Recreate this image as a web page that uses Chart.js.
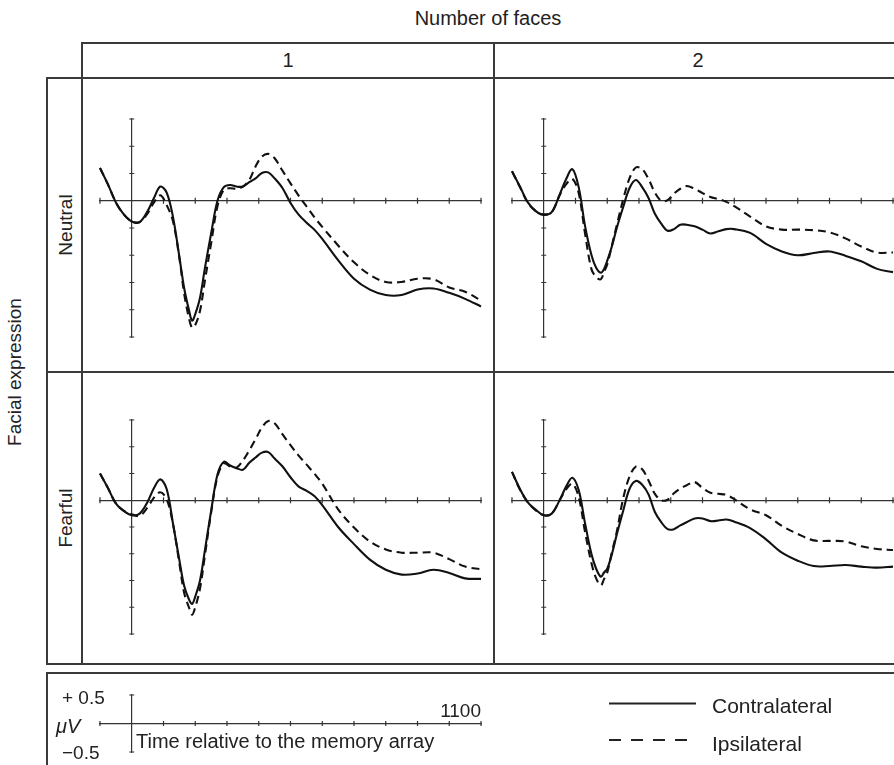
<!DOCTYPE html>
<html>
<head>
<meta charset="utf-8">
<title>Contralateral vs ipsilateral waveforms</title>
<script src="https://cdn.jsdelivr.net/npm/chart.js@4.4.1/dist/chart.umd.min.js"></script>
<style>
  html, body { margin: 0; padding: 0; width: 894px; height: 765px; overflow: hidden; background: #fff; }
  body { position: relative; font-family: "Liberation Sans", Arial, sans-serif; color: #222; }
  .rule { position: absolute; background: #3a3a3a; }
  .txt { position: absolute; white-space: nowrap; line-height: 1; font-size: 19px; }
  canvas { position: absolute; }
</style>
</head>
<body>
<script>
// sample times (ms relative to the memory array)
const timesMs = [-100, -75, -50, -25, 0, 25, 50, 70, 90, 110, 130, 150, 165, 180, 190,
  200, 215, 230, 250, 270, 290, 310, 330, 350, 370, 390, 410, 430, 450, 475,
  500, 525, 550, 575, 600, 650, 700, 750, 800, 850, 900, 950, 1000, 1050, 1100];

const xTicksMs = [-100, 100, 200, 300, 400, 500, 600, 700, 800, 900, 1000, 1100];
const yTicksUv = [-2.5, -2, -1.5, -1, -0.5, 0.5, 1, 1.5];

const rowLabels = ['Neutral', 'Fearful'];
const colLabels = ['1', '2'];
const seriesLabels = ['Contralateral', 'Ipsilateral'];

// amplitudes in microvolts, one value per entry of timesMs
const neutral1Contra = [0.6, 0.3, -0.03, -0.25, -0.38, -0.39, -0.19, 0.05, 0.26, 0.15, -0.3, -1.03, -1.6, -2.0, -2.2,
  -2.08, -1.78, -1.25, -0.6, 0, 0.25, 0.29, 0.26, 0.26, 0.34, 0.41, 0.51, 0.52, 0.41, 0.23,
  -0.04, -0.25, -0.4, -0.53, -0.7, -1.09, -1.43, -1.63, -1.73, -1.73, -1.63, -1.61, -1.69, -1.8, -1.94];
const neutral1Ipsi = [0.6, 0.3, -0.03, -0.25, -0.38, -0.39, -0.23, -0.03, 0.1, -0.08, -0.38, -1.05, -1.7, -2.15, -2.33,
  -2.28, -2.02, -1.48, -0.78, -0.1, 0.2, 0.23, 0.22, 0.26, 0.38, 0.63, 0.81, 0.86, 0.78, 0.55,
  0.32, 0.1, -0.1, -0.3, -0.48, -0.82, -1.13, -1.36, -1.49, -1.49, -1.43, -1.44, -1.59, -1.67, -1.83];
const neutral2Contra = [0.54, 0.26, -0.03, -0.19, -0.26, -0.21, 0.11, 0.39, 0.58, 0.25, -0.46, -0.99, -1.23, -1.32, -1.25,
  -1.1, -0.83, -0.5, -0.12, 0.23, 0.38, 0.25, 0.05, -0.24, -0.42, -0.55, -0.52, -0.44, -0.44, -0.47,
  -0.53, -0.6, -0.56, -0.52, -0.52, -0.59, -0.79, -0.93, -1.0, -0.96, -0.93, -1.01, -1.11, -1.25, -1.31];
const neutral2Ipsi = [0.54, 0.25, -0.04, -0.19, -0.25, -0.21, 0.1, 0.3, 0.4, 0.14, -0.6, -1.25, -1.4, -1.44, -1.3,
  -1.17, -0.81, -0.45, 0.02, 0.41, 0.61, 0.58, 0.4, 0.15, 0.0, 0.01, 0.13, 0.22, 0.27, 0.22,
  0.14, 0.07, 0.03, -0.02, -0.1, -0.29, -0.47, -0.53, -0.53, -0.54, -0.58, -0.69, -0.84, -0.95, -0.95];
const fearful1Contra = [0.5, 0.23, -0.06, -0.2, -0.28, -0.25, -0.03, 0.23, 0.39, 0.21, -0.44, -1.12, -1.6, -1.85, -1.94,
  -1.8, -1.5, -0.95, -0.2, 0.48, 0.72, 0.65, 0.6, 0.57, 0.7, 0.8, 0.89, 0.9, 0.78, 0.63,
  0.43, 0.26, 0.18, 0.08, -0.09, -0.5, -0.82, -1.11, -1.3, -1.39, -1.37, -1.3, -1.36, -1.46, -1.47];
const fearful1Ipsi = [0.5, 0.23, -0.06, -0.2, -0.26, -0.29, -0.13, 0.05, 0.15, 0.02, -0.45, -1.18, -1.73, -2.0, -2.14,
  -2.0, -1.65, -1.05, -0.23, 0.44, 0.69, 0.63, 0.61, 0.74, 0.93, 1.14, 1.36, 1.48, 1.44, 1.23,
  1.03, 0.84, 0.67, 0.5, 0.31, -0.17, -0.51, -0.77, -0.92, -0.98, -0.98, -0.98, -1.1, -1.24, -1.29];
const fearful2Contra = [0.53, 0.21, -0.04, -0.18, -0.28, -0.25, 0.0, 0.25, 0.42, 0.19, -0.43, -1.0, -1.28, -1.43, -1.35,
  -1.28, -1.0, -0.64, -0.2, 0.21, 0.36, 0.29, 0.11, -0.22, -0.41, -0.54, -0.54, -0.47, -0.41, -0.34,
  -0.34, -0.39, -0.38, -0.36, -0.4, -0.52, -0.73, -0.98, -1.13, -1.23, -1.23, -1.21, -1.24, -1.26, -1.24];
const fearful2Ipsi = [0.53, 0.2, -0.04, -0.19, -0.28, -0.25, 0.0, 0.2, 0.31, 0.06, -0.59, -1.17, -1.46, -1.59, -1.47,
  -1.35, -0.96, -0.59, 0.03, 0.44, 0.63, 0.58, 0.37, 0.12, 0.0, 0.01, 0.13, 0.22, 0.28, 0.34,
  0.23, 0.14, 0.12, 0.1, 0.02, -0.17, -0.28, -0.48, -0.63, -0.75, -0.76, -0.77, -0.86, -0.91, -0.93];

// legend scale bar
const scaleBarTicksMs = [-100, 100, 200, 300, 400, 500, 600, 700, 800, 900, 1000, 1100];
const scaleBarTicksUv = [-0.5, 0.5];

// ---- layout (page pixels) ----
const colX = [100, 512];          // left edge of each plot area
const rowY = [119, 420];          // top edge of each plot area
const rowH = [218, 214];
const plotW = 381;
const PAD = 10;

const panels = [
  { contra: neutral1Contra, ipsi: neutral1Ipsi, col: 0, row: 0 },
  { contra: neutral2Contra, ipsi: neutral2Ipsi, col: 1, row: 0 },
  { contra: fearful1Contra, ipsi: fearful1Ipsi, col: 0, row: 1 },
  { contra: fearful2Contra, ipsi: fearful2Ipsi, col: 1, row: 1 }
];

// small tick marks crossing the axis lines (both sides)
const crossTicks = {
  id: 'crossTicks',
  beforeDatasetsDraw(chart, args, opts) {
    const { ctx, scales: { x, y } } = chart;
    const x0 = x.getPixelForValue(0);
    const y0 = y.getPixelForValue(0);
    ctx.save();
    ctx.strokeStyle = '#333';
    ctx.lineWidth = 1.2;
    ctx.beginPath();
    opts.xTicks.forEach(v => {
      const px = x.getPixelForValue(v);
      ctx.moveTo(px, y0 - opts.xLen);
      ctx.lineTo(px, y0 + opts.xLen);
    });
    opts.yTicks.forEach(v => {
      const py = y.getPixelForValue(v);
      ctx.moveTo(x0 - opts.yLen, py);
      ctx.lineTo(x0 + opts.yLen, py);
    });
    ctx.stroke();
    ctx.restore();
  }
};

function addCanvas(left, top, w, h) {
  const c = document.createElement('canvas');
  c.width = w + 2 * PAD;
  c.height = h + 2 * PAD;
  c.style.left = (left - PAD) + 'px';
  c.style.top = (top - PAD) + 'px';
  c.style.width = c.width + 'px';
  c.style.height = c.height + 'px';
  document.body.appendChild(c);
  return c;
}

function axisScales(yMin, yMax) {
  const border = { color: '#333', width: 1.2 };
  return {
    x: { type: 'linear', min: -100, max: 1100, position: { y: 0 }, grid: { display: false }, ticks: { display: false }, border },
    y: { type: 'linear', min: yMin, max: yMax, position: { x: 0 }, grid: { display: false }, ticks: { display: false }, border }
  };
}

function toPoints(values) {
  return timesMs.map((t, i) => ({ x: t, y: values[i] }));
}

panels.forEach(p => {
  const canvas = addCanvas(colX[p.col], rowY[p.row], plotW, rowH[p.row]);
  new Chart(canvas, {
    type: 'line',
    data: {
      datasets: [
        { label: seriesLabels[0], data: toPoints(p.contra), borderColor: '#111', borderWidth: 2.1,
          pointRadius: 0, tension: 0.35, clip: false },
        { label: seriesLabels[1], data: toPoints(p.ipsi), borderColor: '#111', borderWidth: 2.1,
          borderDash: [8, 5], pointRadius: 0, tension: 0.35, clip: false }
      ]
    },
    options: {
      responsive: false,
      animation: false,
      events: [],
      layout: { padding: PAD },
      plugins: {
        legend: { display: false },
        tooltip: { enabled: false },
        crossTicks: { xTicks: xTicksMs, yTicks: yTicksUv, xLen: 3, yLen: 2.5 }
      },
      scales: axisScales(-2.5, 1.5)
    },
    plugins: [crossTicks]
  });
});

// scale bar in the legend box
const barCanvas = addCanvas(100, 695, plotW, 57);
new Chart(barCanvas, {
  type: 'line',
  data: { datasets: [] },
  options: {
    responsive: false,
    animation: false,
    events: [],
    layout: { padding: PAD },
    plugins: {
      legend: { display: false },
      tooltip: { enabled: false },
      crossTicks: { xTicks: scaleBarTicksMs, yTicks: scaleBarTicksUv, xLen: 2.5, yLen: 2.5 }
    },
    scales: axisScales(-0.5, 0.5)
  },
  plugins: [crossTicks]
});

// ---- frame rules ----
function hRule(x1, x2, y) {
  const d = document.createElement('div');
  d.className = 'rule';
  d.style.left = x1 - 1 + 'px'; d.style.top = y - 1 + 'px';
  d.style.width = (x2 - x1 + 2) + 'px'; d.style.height = '2px';
  document.body.appendChild(d);
}
function vRule(x, y1, y2) {
  const d = document.createElement('div');
  d.className = 'rule';
  d.style.left = x - 1 + 'px'; d.style.top = y1 - 1 + 'px';
  d.style.width = '2px'; d.style.height = (y2 - y1 + 2) + 'px';
  document.body.appendChild(d);
}
hRule(82, 900, 43);
hRule(47, 900, 78);
hRule(47, 900, 372);
hRule(47, 900, 664);
vRule(82, 43, 664);
vRule(47, 78, 664);
vRule(494, 43, 664);
hRule(47, 900, 673);
vRule(47, 673, 780);

// ---- text ----
function addText(html, x, y, opts = {}) {
  const d = document.createElement('div');
  d.className = 'txt';
  d.innerHTML = html;
  d.style.left = x + 'px';
  d.style.top = y + 'px';
  if (opts.size) d.style.fontSize = opts.size + 'px';
  const ax = opts.anchor === 'left' ? '0' : opts.anchor === 'right' ? '-100%' : '-50%';
  d.style.transform = `translate(${ax}, -50%)` + (opts.rotate ? ` rotate(${opts.rotate}deg)` : '');
  if (opts.rotate) d.style.transformOrigin = '50% 50%';
  document.body.appendChild(d);
  return d;
}

addText('Number of faces', 488, 18, { size: 20 });
addText(colLabels[0], 288, 60, { size: 20 });
addText(colLabels[1], 698, 60, { size: 20 });
addText('Facial expression', 14, 372, { rotate: -90 });
addText(rowLabels[0], 64.5, 225, { rotate: -90 });
addText(rowLabels[1], 64.5, 518, { rotate: -90 });

addText('+ 0.5', 62, 697, { anchor: 'left', size: 19 });
addText('<i>\u03bcV</i>', 56, 726, { anchor: 'left', size: 20 });
addText('\u22120.5', 62, 752, { anchor: 'left', size: 19 });
addText('1100', 481, 710, { anchor: 'right', size: 19 });
addText('Time relative to the memory array', 136, 741, { anchor: 'left', size: 20 });

addText(seriesLabels[0], 712, 705, { anchor: 'left', size: 21 });
addText(seriesLabels[1], 712, 743, { anchor: 'left', size: 21 });

const svgNS = 'http://www.w3.org/2000/svg';
const svg = document.createElementNS(svgNS, 'svg');
svg.setAttribute('width', '120');
svg.setAttribute('height', '60');
svg.style.position = 'absolute';
svg.style.left = '600px';
svg.style.top = '690px';
[[13.5, null], [50, '12 10']].forEach(([y, dash]) => {
  const l = document.createElementNS(svgNS, 'line');
  l.setAttribute('x1', 9); l.setAttribute('x2', 96);
  l.setAttribute('y1', y); l.setAttribute('y2', y);
  l.setAttribute('stroke', '#222'); l.setAttribute('stroke-width', 2);
  if (dash) l.setAttribute('stroke-dasharray', dash);
  svg.appendChild(l);
});
document.body.appendChild(svg);
</script>
</body>
</html>
